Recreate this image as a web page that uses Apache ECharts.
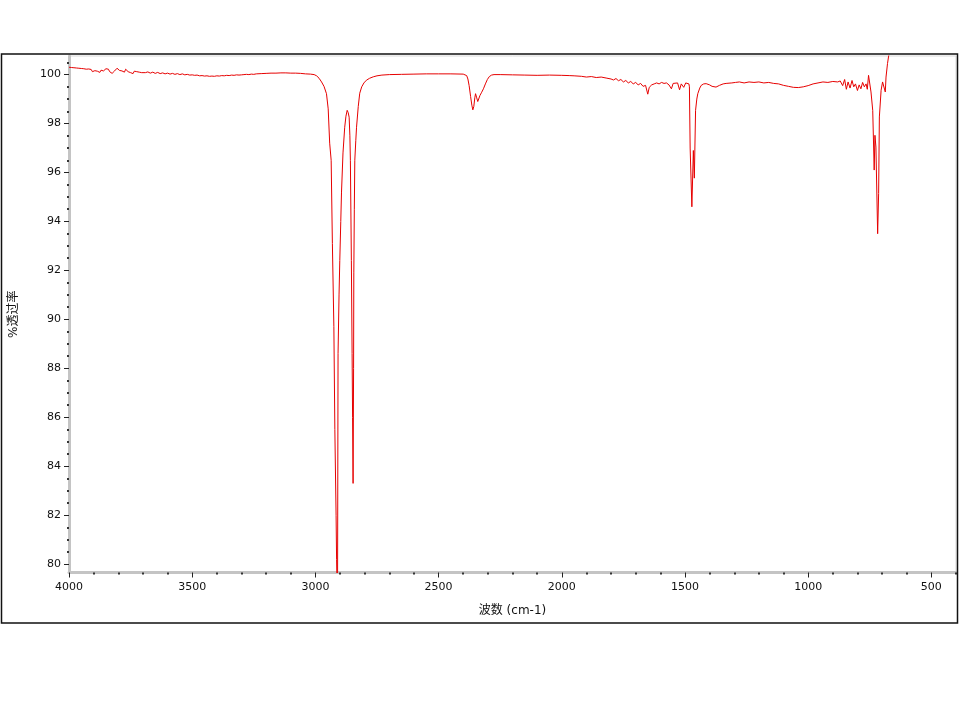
<!DOCTYPE html>
<html>
<head>
<meta charset="utf-8">
<script src="https://cdn.jsdelivr.net/npm/echarts@6/dist/echarts.min.js"></script>
<style>
html,body{margin:0;padding:0;background:#fff;}
#chart{width:960px;height:720px;}
</style>
</head>
<body>
<div id="chart"></div>
<script>
// ---- data: [wavenumber (cm-1), %transmittance] ----
var highBaseline = [
  [4000,100.30],[3995,100.27],[3990,100.29],[3985,100.26],[3980,100.28],[3975,100.24],[3970,100.27],
  [3965,100.22],[3960,100.26],[3955,100.23],[3950,100.25],[3945,100.20],[3940,100.24],[3935,100.19],
  [3930,100.22],[3925,100.17],[3920,100.23],[3915,100.18],[3910,100.21],[3905,100.12],[3900,100.20],
  [3895,100.16],[3890,100.22],[3885,100.14],[3880,100.19],[3875,100.09],[3870,100.18],[3865,100.21],
  [3860,100.15],[3855,100.20],[3850,100.24],[3845,100.18],[3840,100.22],[3835,100.12],[3830,100.19],
  [3825,100.05],[3820,99.98],[3815,100.15],[3810,100.20],[3805,100.26],[3800,100.22],[3795,100.17],
  [3790,100.21],[3785,100.15],[3780,100.19],[3775,100.10],[3770,100.22],[3765,100.16],[3760,100.12],
  [3755,100.18],[3750,100.08],[3745,100.15],[3740,100.04],[3735,100.14],[3730,100.18],[3725,100.12],
  [3720,100.17],[3715,100.10],[3710,100.14],[3705,100.08],[3700,100.13],[3690,100.08],[3680,100.11],
  [3670,100.06],[3660,100.10],[3650,100.05],[3640,100.09],[3630,100.04],[3620,100.07],[3610,100.03],
  [3600,100.06],[3590,100.02],[3580,100.05],[3570,100.01],[3560,100.04],[3550,100.00],[3540,100.03],
  [3530,99.99],[3520,100.01],[3510,99.98],[3500,99.99],[3490,99.97],[3480,99.98],[3470,99.95],
  [3460,99.96],[3450,99.94],[3440,99.95],[3430,99.93],[3420,99.94],[3410,99.93],[3400,99.95],
  [3390,99.94],[3380,99.96],[3370,99.95],[3360,99.97],[3350,99.96],[3340,99.98],[3330,99.97],
  [3320,99.99],[3310,99.98],[3300,99.99],[3290,100.00],[3280,100.01],[3270,100.00],[3260,100.02],
  [3250,100.01],[3240,100.03],[3220,100.04],[3200,100.05],[3180,100.06],[3160,100.06],[3140,100.07],
  [3120,100.07],[3100,100.06],[3080,100.06],[3060,100.05],[3040,100.03],[3020,100.02]
];
var chStretch = [
  [3005,100.00],[2995,99.95],[2985,99.85],[2975,99.70],[2965,99.52],[2955,99.22],[2948,98.6],
  [2942,97.2],[2936,96.5],[2931,93.1],[2925,89.7],[2921,85.5],[2916,82.0],[2914,80.2],[2912,79.0],
  [2910,79.2],[2908,88.6],[2904,91.0],[2901,92.4],[2897,94.0],[2894,95.2],[2888,96.8],[2881,97.85],
  [2876,98.3],[2871,98.54],[2867,98.45],[2863,98.26],[2860,97.5],[2858,96.5],[2854,92.4],[2851,88.6],
  [2849,86.0],[2847,83.3],[2845,88.0],[2844,91.9],[2842,94.5],[2840,96.5],[2836,97.3],[2833,97.85],
  [2826,98.7],[2820,99.24],[2812,99.5],[2803,99.66],[2793,99.77],[2780,99.85],[2765,99.91],
  [2750,99.95],[2730,99.98]
];
var midBaseline = [
  [2700,100.00],[2650,100.01],[2600,100.02],[2550,100.03],[2500,100.03],[2450,100.03],[2400,100.02]
];
var co2Band = [
  [2392,100.02],[2386,99.96],[2381,99.82],[2376,99.55],[2370,99.10],[2365,98.75],[2361,98.56],
  [2357,98.70],[2353,99.05],[2350,99.22],[2346,99.08],[2341,98.90],[2337,98.98],[2332,99.15],
  [2325,99.28],[2318,99.42],[2310,99.62],[2302,99.80],[2294,99.92],[2285,99.98],[2275,100.00]
];
var fingerprint = [
  [2250,100.00],[2200,99.99],[2150,99.98],[2100,99.97],[2050,99.98],[2000,99.97],[1970,99.96],
  [1950,99.95],[1920,99.93],[1900,99.90],[1880,99.92],[1860,99.88],[1840,99.90],[1820,99.86],
  [1800,99.82],[1790,99.78],[1780,99.84],[1770,99.75],[1760,99.80],[1750,99.70],[1740,99.76],
  [1730,99.66],[1720,99.72],[1710,99.62],[1700,99.68],[1690,99.58],[1680,99.64],[1670,99.52],
  [1660,99.56],[1651,99.20],[1645,99.48],[1635,99.58],[1625,99.62],[1615,99.66],[1605,99.62],
  [1595,99.68],[1585,99.64],[1575,99.66],[1565,99.58],[1555,99.42],[1548,99.64],[1540,99.56],
  [1530,99.66],[1522,99.38],[1515,99.62],[1505,99.48],[1497,99.66],[1490,99.58],[1484,99.62]
];
var bendBand = [
  [1482,99.50],[1479,97.0],[1472,94.6],[1466,96.9],[1462,95.77],[1457,98.54],[1452,99.0],
  [1448,99.22],[1440,99.45],[1434,99.56],[1424,99.62],[1414,99.63],[1400,99.58],[1390,99.52],
  [1374,99.49],[1360,99.56],[1345,99.62],[1333,99.64],[1310,99.66],[1295,99.68],[1279,99.70]
];
var lowRegion = [
  [1260,99.66],[1240,99.70],[1220,99.68],[1200,99.70],[1180,99.66],[1160,99.68],[1140,99.64],
  [1120,99.62],[1100,99.56],[1080,99.52],[1060,99.48],[1040,99.47],[1020,99.50],[1000,99.55],
  [980,99.62],[960,99.66],[940,99.70],[920,99.68],[900,99.72],[880,99.70],[870,99.74],
  [860,99.55],[852,99.80],[845,99.40],[838,99.70],[830,99.45],[822,99.76],[815,99.50],
  [808,99.62],[800,99.35],[793,99.58],[786,99.42],[779,99.68],[772,99.50],[765,99.62],
  [760,99.40],[755,99.97],[745,99.29]
];
var rockBand = [
  [738,98.54],[732,96.1],[729,97.52],[725,97.04],[718,93.5],[714,95.14],[711,98.27],
  [704,99.36],[698,99.70],[691,99.63],[687,99.29],[684,99.90],[678,100.45],[674,100.72],[671,100.9]
];

var xMajorTicks = [500,1000,1500,2000,2500,3000,3500,4000];
var xMinorTicks = [];
for (var v = 400; v <= 4000; v += 100) { if (v % 500 !== 0) xMinorTicks.push(v); }
var yMajorTicks = [80,82,84,86,88,90,92,94,96,98,100];
var yMinorTicks = [];
for (var w = 80.5; w <= 100.5; w += 0.5) { if (w % 2 !== 0) yMinorTicks.push(w); }

var spectrum = [].concat(highBaseline, chStretch, midBaseline, co2Band, fingerprint, bendBand, lowRegion, rockBand);

var X_MIN = 400, X_MAX = 4000, Y_MIN = 79.66, Y_MAX = 100.76;
var FONT = 'DejaVu Sans, Noto Sans CJK SC';
var nameFont = {fontFamily:FONT, fontSize:12, color:'#111'};
function plain(v){ return String(v); }

var chart = echarts.init(document.getElementById('chart'), null, {renderer:'canvas'});
chart.setOption({
  animation:false,
  backgroundColor:'#ffffff',
  grid:{left:69, right:4, top:56, bottom:147.5, containLabel:false, outerBoundsMode:'none',
        show:true, borderColor:'#d9d9d9', borderWidth:1},
  xAxis:[{
    type:'value', min:X_MIN, max:X_MAX, inverse:true, position:'bottom',
    name:'波数 (cm-1)', nameLocation:'middle', nameGap:32, nameTextStyle:nameFont,
    axisLine:{show:true, lineStyle:{color:'#c4c4c4', width:3}},
    axisTick:{show:true, customValues:xMajorTicks, length:5, lineStyle:{color:'#222', width:1}},
    axisLabel:{show:true, customValues:xMajorTicks, formatter:plain, margin:9, fontFamily:FONT, fontSize:11, color:'#111'},
    splitLine:{show:false}
  },{
    type:'value', min:X_MIN, max:X_MAX, inverse:true, position:'bottom',
    axisLine:{show:false},
    axisTick:{show:true, customValues:xMinorTicks, length:2, lineStyle:{color:'#333', width:2}},
    axisLabel:{show:false, customValues:xMinorTicks},
    splitLine:{show:false}
  }],
  yAxis:[{
    type:'value', min:Y_MIN, max:Y_MAX, position:'left',
    name:'%透过率', nameLocation:'middle', nameGap:49, nameTextStyle:nameFont,
    axisLine:{show:true, lineStyle:{color:'#c4c4c4', width:3}},
    axisTick:{show:true, customValues:yMajorTicks, length:5, lineStyle:{color:'#222', width:1}},
    axisLabel:{show:true, customValues:yMajorTicks, formatter:plain, margin:8, fontFamily:FONT, fontSize:11, color:'#111'},
    splitLine:{show:false}
  },{
    type:'value', min:Y_MIN, max:Y_MAX, position:'left',
    axisLine:{show:false},
    axisTick:{show:true, customValues:yMinorTicks, length:2, lineStyle:{color:'#333', width:2}},
    axisLabel:{show:false, customValues:yMinorTicks},
    splitLine:{show:false}
  }],
  graphic:[{
    type:'rect', silent:true, z:100,
    shape:{x:1.5, y:54, width:956, height:569},
    style:{fill:null, stroke:'#111', lineWidth:1.5}
  }],
  series:[{
    type:'line', xAxisIndex:0, yAxisIndex:0,
    data:spectrum, showSymbol:false, symbol:'none', clip:true,
    lineStyle:{color:'#e60000', width:1},
    itemStyle:{color:'#e60000'}
  }]
});
</script>
</body>
</html>
